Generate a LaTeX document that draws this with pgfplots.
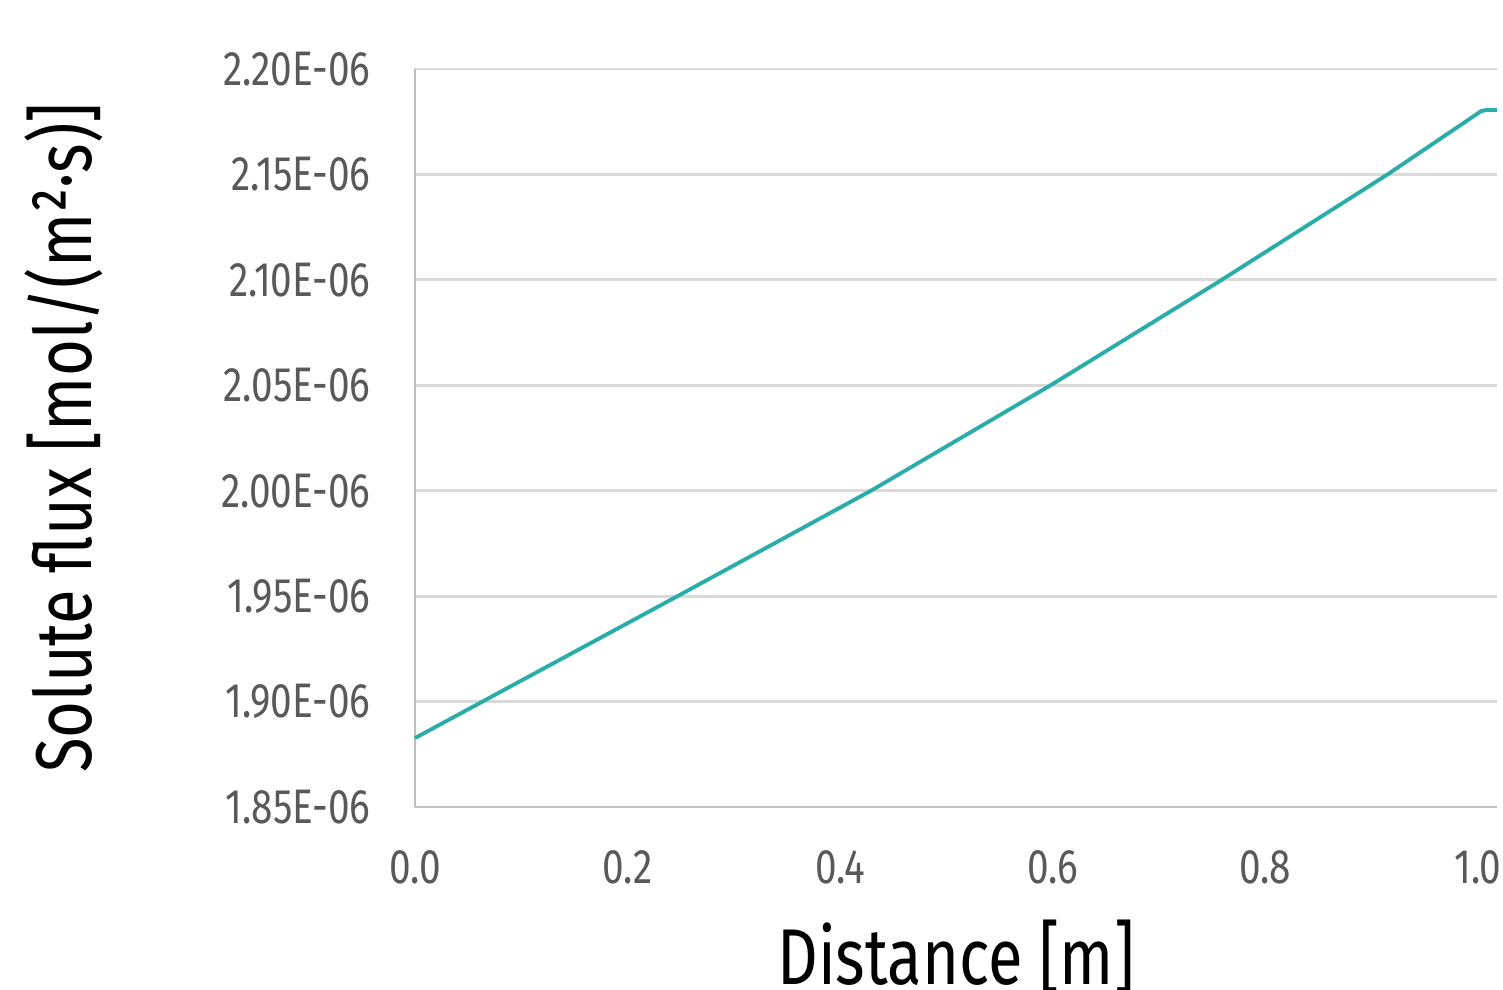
\documentclass[border=0pt]{standalone}
\usepackage{fontspec}
\setmainfont{Fira Sans}[FakeStretch=0.8]
\usepackage{pgfplots}
\pgfplotsset{compat=1.18}
\definecolor{fluxteal}{HTML}{2AADA9}
\definecolor{ticktext}{HTML}{595959}
\definecolor{axisgrey}{HTML}{BFBFBF}
\definecolor{gridgrey}{HTML}{D9D9D9}
\begin{document}
\begin{tikzpicture}
\begin{axis}[
  name=ax,
  scale only axis,
  width=10.82cm, height=7.38cm,
  xmin=0, xmax=1.018,
  ymin=1.85e-6, ymax=2.20e-6,
  scaled y ticks=false,
  axis x line=bottom, axis y line=left,
  axis line style={axisgrey, line width=0.8pt, -},
  major tick length=0pt,
  xtick={0,0.2,0.4,0.6,0.8,1.0},
  xticklabels={0.0,0.2,0.4,0.6,0.8,1.0},
  ytick={1.85e-6,1.90e-6,1.95e-6,2.00e-6,2.05e-6,2.10e-6,2.15e-6,2.20e-6},
  yticklabels={1.85E-06,1.90E-06,1.95E-06,2.00E-06,2.05E-06,2.10E-06,2.15E-06,2.20E-06},
  ymajorgrids, grid style={gridgrey, line width=0.8pt},
  tick label style={font=\fontsize{13.8}{16}\selectfont, text=ticktext},
  xticklabel style={yshift=-0.31cm},
  yticklabel style={xshift=-0.32cm},
  xlabel={Distance [m]},
  ylabel={Solute flux [mol/(m²·s)]},
  label style={font=\fontsize{22.5}{26}\selectfont, text=black},
  xlabel style={at={(axis description cs:0.5,0)}, anchor=base, yshift=-1.77cm},
  ylabel style={at={(axis description cs:0,0.5)}, anchor=base, yshift=3.23cm},
  clip=false,
]
\addplot[fluxteal, line width=1.1pt] coordinates {
  (0.000,1.8827e-6) (0.247,1.950e-6) (0.429,2.000e-6) (0.598,2.050e-6)
  (0.759,2.100e-6) (0.915,2.150e-6) (1.003,2.1800e-6) (1.008,2.1806e-6)
  (1.018,2.1806e-6)
};
\end{axis}
\pgfresetboundingbox
\path[use as bounding box] ([xshift=-4.15cm,yshift=-1.82cm]ax.south west)
  rectangle ([xshift=0.06cm,yshift=0.69cm]ax.north east);
\end{tikzpicture}
\end{document}
